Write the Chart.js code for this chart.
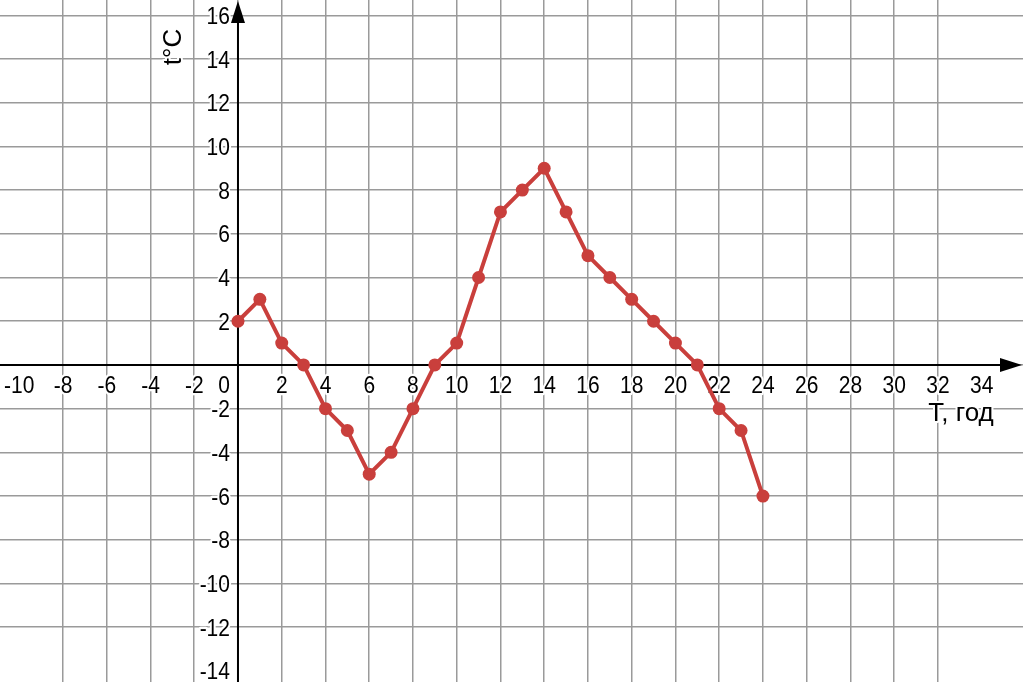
<!DOCTYPE html>
<html>
<head>
<meta charset="utf-8">
<script src="https://cdn.jsdelivr.net/npm/chart.js@4.4.1/dist/chart.umd.min.js"></script>
<style>
  body { margin: 0; background: #fff; }
</style>
</head>
<body>
<canvas id="graph" width="1023" height="682"></canvas>
<script>
// temperature through the day
const hours = [0, 1, 2, 3, 4, 5, 6, 7, 8, 9, 10, 11, 12, 13, 14, 15, 16, 17, 18, 19, 20, 21, 22, 23, 24];
const temps = [2, 3, 1, 0, -2, -3, -5, -4, -2, 0, 1, 4, 7, 8, 9, 7, 5, 4, 3, 2, 1, 0, -2, -3, -6];

const xTickLabels = [-10, -8, -6, -4, -2, 2, 4, 6, 8, 10, 12, 14, 16, 18, 20, 22, 24, 26, 28, 30, 32, 34];
const yTickLabels = [16, 14, 12, 10, 8, 6, 4, 2, -2, -4, -6, -8, -10, -12, -14];

const xTitle = 'T, год';
const yTitle = 't°C';

const red = '#c93f3c';
const gridColor = '#9a9a9a';
const font = '"Liberation Sans", Arial, sans-serif';

function evenGrid(c) {
  const v = c.tick.value;
  return Math.abs(v - Math.round(v / 2) * 2) < 1e-6 ? gridColor : 'rgba(0,0,0,0)';
}

const axesPlugin = {
  id: 'axes',
  beforeDatasetsDraw(chart) {
    const ctx = chart.ctx;
    const x = chart.scales.x, y = chart.scales.y, a = chart.chartArea;
    const x0 = x.getPixelForValue(0), y0 = y.getPixelForValue(0);
    ctx.save();

    // axis lines
    ctx.strokeStyle = '#000';
    ctx.lineWidth = 2;
    ctx.beginPath();
    ctx.moveTo(a.left, y0);
    ctx.lineTo(a.right - 15, y0);
    ctx.moveTo(x0, a.bottom);
    ctx.lineTo(x0, a.top + 15);
    ctx.stroke();

    // arrows
    ctx.fillStyle = '#000';
    ctx.beginPath();
    ctx.moveTo(a.right - 1, y0);
    ctx.lineTo(a.right - 23, y0 - 7);
    ctx.lineTo(a.right - 23, y0 + 7);
    ctx.closePath();
    ctx.fill();
    ctx.beginPath();
    ctx.moveTo(x0, a.top + 1);
    ctx.lineTo(x0 - 7, a.top + 23);
    ctx.lineTo(x0 + 7, a.top + 23);
    ctx.closePath();
    ctx.fill();

    // tick labels with white halo, a little taller than plain Arial
    ctx.font = '21px ' + font;
    ctx.textBaseline = 'alphabetic';
    ctx.lineJoin = 'round';
    ctx.lineWidth = 4;
    ctx.strokeStyle = '#fff';
    ctx.fillStyle = '#000';
    const label = (t, px, py, align, sy) => {
      ctx.save();
      ctx.translate(px, py);
      ctx.scale(1, sy || 1);
      ctx.textAlign = align;
      ctx.strokeText(t, 0, 0);
      ctx.fillText(t, 0, 0);
      ctx.restore();
    };
    xTickLabels.forEach(v => label(String(v), x.getPixelForValue(v), y0 + 28, 'center', 1.15));
    yTickLabels.forEach(v => label(String(v), x0 - 8, y.getPixelForValue(v) + 8.5, 'right', 1.15));
    label('0', x0 - 8, y0 + 28, 'right', 1.15);

    // axis titles
    ctx.font = '26px ' + font;
    label(xTitle, 961, 421, 'center');
    ctx.translate(181, 47);
    ctx.rotate(-Math.PI / 2);
    label(yTitle, 0, 0, 'center');

    ctx.restore();
  }
};

new Chart(document.getElementById('graph'), {
  type: 'line',
  data: {
    datasets: [{
      data: hours.map((h, i) => ({ x: h, y: temps[i] })),
      borderColor: red,
      backgroundColor: red,
      borderWidth: 4,
      pointRadius: 6.5,
      pointHoverRadius: 6.5,
      pointBorderWidth: 0,
      tension: 0
    }]
  },
  options: {
    responsive: false,
    animation: false,
    layout: { padding: 0, autoPadding: false },
    plugins: {
      legend: { display: false },
      tooltip: { enabled: false }
    },
    scales: {
      x: {
        type: 'linear',
        min: -10.88,
        max: 35.89,
        ticks: { display: false, stepSize: 2 },
        grid: { color: evenGrid, lineWidth: 1.5, drawTicks: false },
        border: { display: false }
      },
      y: {
        type: 'linear',
        min: -14.51,
        max: 16.7,
        ticks: { display: false, stepSize: 2 },
        grid: { color: evenGrid, lineWidth: 1.5, drawTicks: false },
        border: { display: false }
      }
    }
  },
  plugins: [axesPlugin]
});
</script>
</body>
</html>
